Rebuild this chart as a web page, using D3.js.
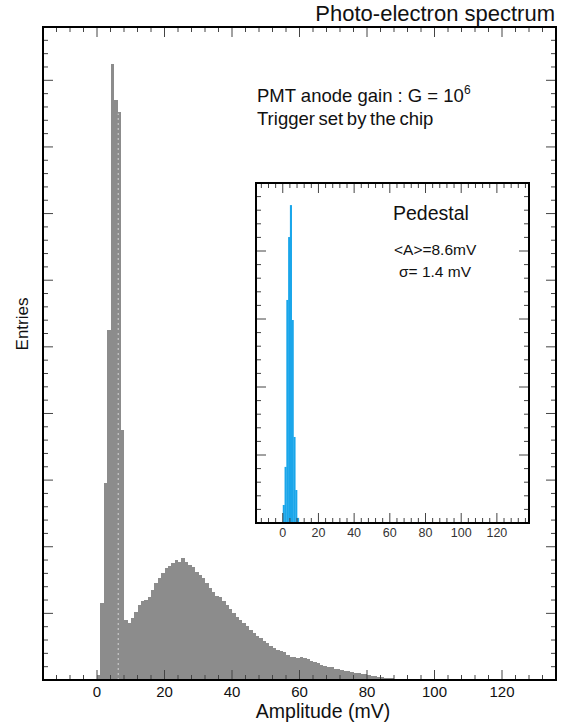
<!DOCTYPE html>
<html>
<head>
<meta charset="utf-8">
<script src="https://cdn.jsdelivr.net/npm/d3@7"></script>
<style>
  body { margin: 0; background: #fff; }
  text { font-family: "Liberation Sans", Arial, sans-serif; fill: #111; }
</style>
</head>
<body>
<div id="chart"></div>
<script>
// main spectrum: 1 mV bins starting at 0 mV
const mainBinStart = 0;
const mainCounts = [
  40, 577, 1478, 2625, 4620, 4350, 4260, 1875, 450, 428,
  465, 510, 563, 593, 600, 623, 675, 728, 765, 803,
  840, 855, 878, 900, 885, 915, 885, 863, 848, 810,
  788, 765, 728, 690, 660, 630, 623, 593, 563, 533,
  503, 473, 450, 428, 405, 375, 353, 330, 315, 293,
  278, 255, 240, 225, 218, 210, 188, 173, 173, 165,
  173, 165, 158, 143, 135, 128, 113, 105, 98, 98,
  83, 83, 75, 68, 68, 60, 53, 53, 45, 45,
  38, 30, 30, 23, 23, 15, 12, 12, 10, 10,
  8, 8, 6, 5, 4, 3
];
// inset: pedestal only, 1 mV bins starting at 0 mV
const insetCounts = [53, 165, 656, 841, 935, 597, 253, 97, 15];

const xTickLabels = [0, 20, 40, 60, 80, 100, 120];
const titleText = "Photo-electron spectrum";
const noteLines = ["PMT anode gain : G = 10", "Trigger set by the chip"];
const insetLines = ["Pedestal", "<A>=8.6mV", "\u03c3= 1.4 mV"];

const W = 568, H = 722;
const svg = d3.select("#chart").append("svg")
  .attr("width", W).attr("height", H);

// helper: inward ticks on all four sides
function drawTicks(g, x, y, xMinor, xMajor, yMinor, yMajor, box) {
  const tk = g.append("g").attr("stroke", "#444").attr("stroke-width", 1);
  xMinor.forEach(v => {
    const len = xMajor.includes(v) ? 10 : 5;
    tk.append("line").attr("x1", x(v)).attr("x2", x(v))
      .attr("y1", box.bottom).attr("y2", box.bottom - len);
    tk.append("line").attr("x1", x(v)).attr("x2", x(v))
      .attr("y1", box.top).attr("y2", box.top + len);
  });
  yMinor.forEach(v => {
    const len = yMajor.includes(v) ? 10 : 5;
    tk.append("line").attr("y1", y(v)).attr("y2", y(v))
      .attr("x1", box.left).attr("x2", box.left + len);
    tk.append("line").attr("y1", y(v)).attr("y2", y(v))
      .attr("x1", box.right).attr("x2", box.right - len);
  });
}

/* ---------------- main plot ---------------- */
const m = { left: 43, right: 556, top: 27, bottom: 680 };
const x = d3.scaleLinear().domain([-16, 136]).range([m.left, m.right]);
const y = d3.scaleLinear().domain([0, 4900]).range([m.bottom, m.top]);

const main = svg.append("g");

main.append("g").selectAll("rect")
  .data(mainCounts)
  .enter()
  .append("rect")
  .attr("x", (d, i) => x(mainBinStart + i))
  .attr("width", (d, i) => x(mainBinStart + i + 1) - x(mainBinStart + i) + 0.3)
  .attr("y", d => y(d))
  .attr("height", d => y(0) - y(d))
  .attr("fill", "#8c8c8c")
  .attr("shape-rendering", "crispEdges");

// light speckled trace running up through the pedestal peak
main.append("line")
  .attr("x1", x(6.3)).attr("x2", x(6.3))
  .attr("y1", y(0)).attr("y2", y(4250))
  .attr("stroke", "#c8c8c8")
  .attr("stroke-width", 1.2)
  .attr("stroke-dasharray", "2,3");

drawTicks(main, x, y,
  d3.range(-16, 137, 4), xTickLabels,
  d3.range(100, 4900, 100), d3.range(500, 4900, 500), m);

main.append("rect")
  .attr("x", m.left).attr("y", m.top)
  .attr("width", m.right - m.left).attr("height", m.bottom - m.top)
  .attr("fill", "none").attr("stroke", "#000").attr("stroke-width", 2);

// x tick labels
main.append("g").selectAll("text")
  .data(xTickLabels)
  .enter()
  .append("text")
  .attr("x", d => x(d))
  .attr("y", 697)
  .attr("text-anchor", "middle")
  .style("font-size", "15px")
  .text(d => d);

main.append("text")
  .attr("x", 323).attr("y", 718)
  .attr("text-anchor", "middle")
  .style("font-size", "19.5px")
  .text("Amplitude (mV)");

main.append("text")
  .attr("transform", "translate(28,324) rotate(-90)")
  .attr("text-anchor", "middle")
  .style("font-size", "17px")
  .text("Entries");

svg.append("text")
  .attr("x", 555).attr("y", 21)
  .attr("text-anchor", "end")
  .style("font-size", "22px")
  .text(titleText);

// annotation
const note = main.append("text")
  .attr("x", 257).attr("y", 102)
  .style("font-size", "18.5px");
note.append("tspan").text(noteLines[0]);
note.append("tspan").attr("dy", -8).style("font-size", "12px").text("6");
main.append("text")
  .attr("x", 257).attr("y", 125)
  .style("font-size", "18.5px")
  .style("word-spacing", "-1.5px")
  .text(noteLines[1]);

/* ---------------- inset ---------------- */
const b = { left: 256, right: 529, top: 183, bottom: 523 };
const xi = d3.scaleLinear().domain([-15, 138]).range([b.left, b.right]);
const yi = d3.scaleLinear().domain([0, 1000]).range([b.bottom, b.top]);

const inset = svg.append("g");

inset.append("rect")
  .attr("x", b.left).attr("y", b.top)
  .attr("width", b.right - b.left).attr("height", b.bottom - b.top)
  .attr("fill", "#fff");

inset.append("g").selectAll("rect")
  .data(insetCounts)
  .enter()
  .append("rect")
  .attr("x", (d, i) => xi(i))
  .attr("width", (d, i) => xi(i + 1) - xi(i) + 0.3)
  .attr("y", d => yi(d))
  .attr("height", d => yi(0) - yi(d))
  .attr("fill", "#1aa6ea");

drawTicks(inset, xi, yi,
  d3.range(-12, 138, 4), xTickLabels,
  d3.range(40, 1000, 40), d3.range(200, 1000, 200), b);

inset.append("rect")
  .attr("x", b.left).attr("y", b.top)
  .attr("width", b.right - b.left).attr("height", b.bottom - b.top)
  .attr("fill", "none").attr("stroke", "#000").attr("stroke-width", 2);

inset.append("g").selectAll("text")
  .data(xTickLabels)
  .enter()
  .append("text")
  .attr("x", d => xi(d))
  .attr("y", 537)
  .attr("text-anchor", "middle")
  .style("font-size", "12.5px")
  .style("fill", "#333")
  .text(d => d);

inset.append("text")
  .attr("x", 393).attr("y", 220)
  .style("font-size", "19.5px")
  .text(insetLines[0]);
inset.append("text")
  .attr("x", 394).attr("y", 255)
  .style("font-size", "15.5px")
  .text(insetLines[1]);
inset.append("text")
  .attr("x", 399).attr("y", 277)
  .style("font-size", "15.5px")
  .text(insetLines[2]);
</script>
</body>
</html>
